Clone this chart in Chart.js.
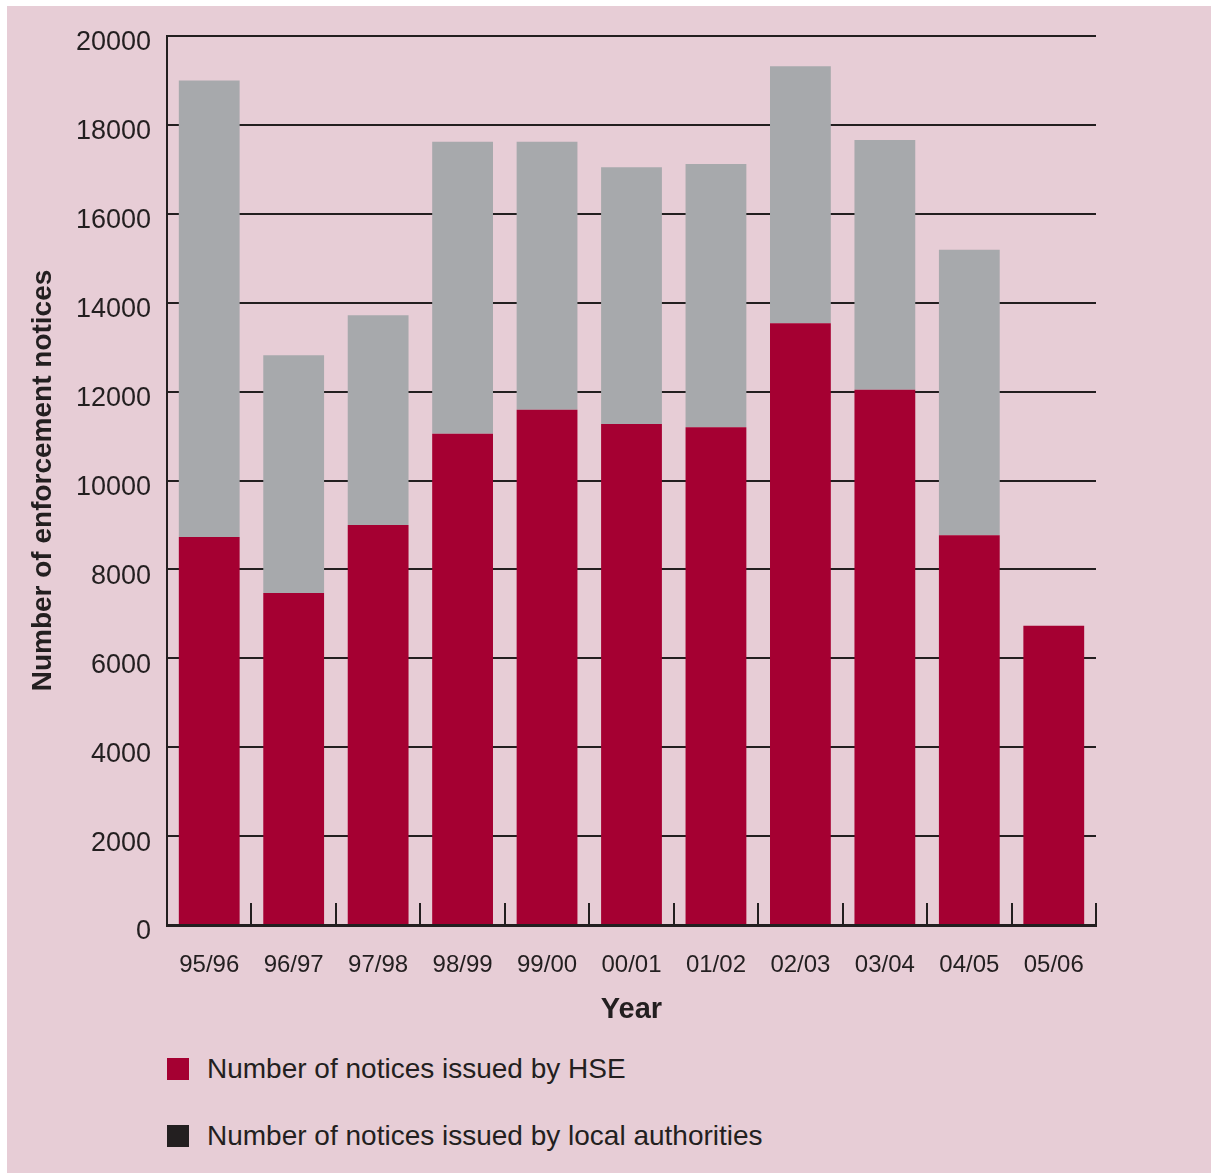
<!DOCTYPE html>
<html>
<head>
<meta charset="utf-8">
<script src="https://cdn.jsdelivr.net/npm/chart.js@4"></script>
<style>
  body { margin: 0; background: #fff; font-family: "Liberation Sans", Arial, sans-serif; }
  #panel { position: absolute; left: 7px; top: 6px; width: 1204px; height: 1167px; background: #e7cdd6; }
  #wrap { position: absolute; left: 0; top: 0; width: 1204px; height: 1030px; }
  .leg { position: absolute; left: 160px; display: flex; align-items: center; font-size: 28px; color: #231f20; }
  .leg span.box { width: 22px; height: 22px; margin-right: 18px; }
</style>
</head>
<body>
<div id="panel">
  <div id="wrap"><canvas id="chart"></canvas></div>
  <div class="leg" style="top:1047px"><span class="box" style="background:#a50032"></span>Number of notices issued by HSE</div>
  <div class="leg" style="top:1114px"><span class="box" style="background:#231f20"></span>Number of notices issued by local authorities</div>
</div>
<script>
const years = ['95/96', '96/97', '97/98', '98/99', '99/00', '00/01', '01/02', '02/03', '03/04', '04/05', '05/06'];
const hseNotices = [8730, 7470, 9000, 11050, 11590, 11270, 11200, 13540, 12040, 8770, 6730];
const laNotices = [10270, 5350, 4720, 6570, 6030, 5780, 5920, 5780, 5620, 6420, 0];
const yTicks = [0, 2000, 4000, 6000, 8000, 10000, 12000, 14000, 16000, 18000, 20000];

const dark = '#231f20';

// short upward tick marks between categories on the x axis
const catTicks = {
  id: 'catTicks',
  afterDatasetsDraw(chart) {
    const x = chart.scales.x;
    const ctx = chart.ctx;
    const half = (x.getPixelForValue(1) - x.getPixelForValue(0)) / 2;
    ctx.save();
    ctx.strokeStyle = dark;
    ctx.lineWidth = 2;
    for (let i = 0; i <= years.length; i++) {
      const px = Math.round(x.getPixelForValue(i) - half);
      ctx.beginPath();
      ctx.moveTo(px, x.top);
      ctx.lineTo(px, x.top - 22);
      ctx.stroke();
    }
    ctx.restore();
  }
};

new Chart(document.getElementById('chart'), {
  type: 'bar',
  data: {
    labels: years,
    datasets: [
      { label: 'Number of notices issued by HSE', data: hseNotices, backgroundColor: '#a50032' },
      { label: 'Number of notices issued by local authorities', data: laNotices, backgroundColor: '#a7a9ac' }
    ]
  },
  options: {
    responsive: true,
    maintainAspectRatio: false,
    animation: false,
    layout: { padding: { top: 30, right: 115, left: 0, bottom: 0 } },
    datasets: { bar: { barPercentage: 0.72, categoryPercentage: 1 } },
    plugins: { legend: { display: false }, tooltip: { enabled: false } },
    scales: {
      x: {
        stacked: true,
        grid: { display: false, drawTicks: false },
        border: { display: true, color: dark, width: 3 },
        ticks: { color: dark, padding: 26, font: { size: 24, family: 'Liberation Sans' } },
        title: { display: true, text: 'Year', color: dark, padding: { top: 0, bottom: 9 },
                 font: { size: 29, weight: 'bold', family: 'Liberation Sans' } },
        afterFit(s) { s.height = 111; }
      },
      y: {
        stacked: true,
        min: 0,
        max: 20000,
        afterBuildTicks(s) { s.ticks = yTicks.map(v => ({ value: v })); },
        grid: { color: dark, lineWidth: 2, drawTicks: false },
        border: { display: true, color: dark, width: 2 },
        ticks: { color: dark, padding: 16, labelOffset: 7, font: { size: 27, family: 'Liberation Sans' },
                 callback: v => String(v) },
        title: { display: true, text: 'Number of enforcement notices', color: dark, padding: { top: 19, bottom: 0 },
                 font: { size: 28, weight: 'bold', family: 'Liberation Sans' } },
        afterFit(s) { s.width = 160; s.paddingTop = 0; s.paddingBottom = 0; }
      }
    }
  },
  plugins: [catTicks]
});
</script>
</body>
</html>
